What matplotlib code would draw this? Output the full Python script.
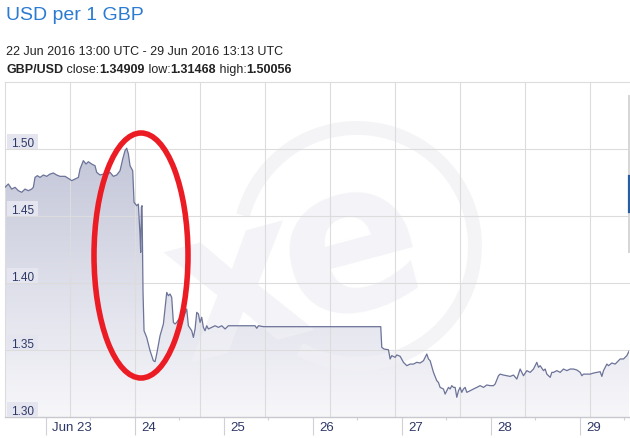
"""
GBP/USD intraday chart around the Brexit vote (22-29 Jun 2016), xe.com style.
"""
import matplotlib
matplotlib.use('Agg')
import matplotlib.pyplot as plt
import numpy as np
from matplotlib.colors import LinearSegmentedColormap
from matplotlib.lines import Line2D
from matplotlib.patches import Arc, Ellipse, Polygon, Rectangle
from matplotlib.transforms import offset_copy

plt.rcParams['font.family'] = ['Liberation Sans', 'DejaVu Sans']

# hours since 22 Jun 2016 13:00 UTC
hours = [
    0.0, 0.9, 1.8, 2.7, 3.6, 4.5, 5.39, 6.29, 7.19, 7.64,
    8.09, 8.72, 9.44, 10.34, 11.24, 12.13, 13.03, 13.93, 14.83, 16.18,
    17.08, 17.98, 18.88, 19.78, 20.23, 21.12, 21.84, 22.47, 23.37, 24.27,
    24.72, 25.62, 26.52, 27.42, 28.31, 29.21, 30.11, 31.01, 31.73, 32.36,
    32.81, 33.26, 33.71, 34.16, 34.43, 34.79, 35.51, 35.96, 36.41, 36.58,
    36.76, 36.94, 37.12, 37.21, 37.48, 38.20, 39.10, 40.00, 40.45, 40.90,
    41.80, 42.70, 43.60, 44.05, 44.49, 44.94, 45.39, 45.84, 46.29, 47.19,
    47.64, 48.09, 48.99, 49.44, 50.34, 50.79, 51.24, 51.69, 52.14, 52.58,
    53.03, 53.48, 53.93, 54.38, 54.83, 55.73, 56.63, 57.53, 58.43, 59.33,
    60.22, 63.37, 67.42, 67.87, 68.32, 69.66, 101.30, 101.57, 102.20, 103.37,
    103.82, 104.27, 105.17, 105.62, 106.52, 107.42, 108.31, 109.21, 110.11, 111.01,
    111.91, 112.81, 113.71, 114.16, 114.61, 115.51, 116.40, 116.85, 117.30, 118.20,
    118.65, 119.10, 119.55, 120.00, 120.45, 120.90, 121.35, 121.80, 122.25, 122.69,
    123.14, 123.59, 124.04, 124.49, 125.39, 126.29, 127.19, 128.09, 128.99, 129.89,
    130.79, 131.68, 132.13, 133.03, 133.48, 134.38, 135.28, 136.18, 137.08, 137.98,
    138.88, 139.32, 139.77, 140.67, 141.57, 142.47, 143.37, 143.82, 144.27, 145.17,
    145.62, 146.07, 146.97, 147.42, 147.87, 148.76, 149.66, 150.56, 151.46, 152.36,
    153.26, 154.16, 155.06, 155.51, 155.95, 156.85, 157.75, 158.65, 159.55, 160.45,
    160.90, 161.35, 162.25, 162.70, 163.60, 164.49, 164.94, 165.84, 166.74, 167.19,
    167.64, 168.09, 168.22,
]
rate = [
    1.4714, 1.4739, 1.4701, 1.4714, 1.4689, 1.4677, 1.4701, 1.4689, 1.4701, 1.4714,
    1.4788, 1.4801, 1.4788, 1.4806, 1.4796, 1.4813, 1.4821, 1.4806, 1.4796, 1.4796,
    1.4781, 1.4764, 1.4776, 1.4788, 1.4851, 1.4913, 1.4888, 1.4905, 1.4888, 1.4875,
    1.4826, 1.4806, 1.4813, 1.4806, 1.4826, 1.4796, 1.4806, 1.4838, 1.4925, 1.4988,
    1.5006, 1.4963, 1.4875, 1.4851, 1.4838, 1.4602, 1.4577, 1.4589, 1.4353, 1.4229,
    1.4565, 1.4577, 1.4104, 1.3930, 1.3644, 1.3594, 1.3495, 1.3420, 1.3413, 1.3470,
    1.3607, 1.3694, 1.3930, 1.3905, 1.3918, 1.3893, 1.3706, 1.3694, 1.3706, 1.3744,
    1.3706, 1.3744, 1.3806, 1.3681, 1.3644, 1.3594, 1.3657, 1.3781, 1.3769, 1.3706,
    1.3744, 1.3669, 1.3644, 1.3681, 1.3657, 1.3669, 1.3681, 1.3669, 1.3681, 1.3657,
    1.3681, 1.3681, 1.3681, 1.3662, 1.3681, 1.3674, 1.3674, 1.3520, 1.3507, 1.3502,
    1.3433, 1.3458, 1.3445, 1.3463, 1.3453, 1.3408, 1.3383, 1.3395, 1.3395, 1.3408,
    1.3403, 1.3420, 1.3470, 1.3433, 1.3420, 1.3333, 1.3271, 1.3258, 1.3221, 1.3209,
    1.3171, 1.3196, 1.3221, 1.3209, 1.3234, 1.3221, 1.3221, 1.3147, 1.3196, 1.3221,
    1.3184, 1.3209, 1.3221, 1.3184, 1.3196, 1.3209, 1.3221, 1.3234, 1.3221, 1.3239,
    1.3234, 1.3234, 1.3246, 1.3308, 1.3320, 1.3313, 1.3308, 1.3303, 1.3313, 1.3283,
    1.3358, 1.3333, 1.3308, 1.3346, 1.3333, 1.3358, 1.3408, 1.3371, 1.3383, 1.3346,
    1.3358, 1.3320, 1.3296, 1.3333, 1.3333, 1.3346, 1.3333, 1.3358, 1.3346, 1.3358,
    1.3358, 1.3351, 1.3333, 1.3308, 1.3320, 1.3320, 1.3320, 1.3328, 1.3333, 1.3338,
    1.3303, 1.3346, 1.3395, 1.3383, 1.3403, 1.3395, 1.3408, 1.3433, 1.3433, 1.3445,
    1.3458, 1.3483, 1.3491,
]

day_ticks = [11, 35, 59, 83, 107, 131, 155]
day_labels = ['Jun 23', '24', '25', '26', '27', '28', '29']
midday_ticks = [23, 47, 71, 95, 119, 143, 167]
y_ticks = [1.30, 1.35, 1.40, 1.45, 1.50]
y_labels = ['1.30', '1.35', '1.40', '1.45', '1.50']

title = 'USD per 1 GBP'
period = '22 Jun 2016 13:00 UTC - 29 Jun 2016 13:13 UTC'
summary = [('GBP/USD', 'bold'), (' close:', 'normal'), ('1.34909', 'bold'),
           (' low:', 'normal'), ('1.31468', 'bold'), (' high:', 'normal'),
           ('1.50056', 'bold')]

X_END = 168.22
Y_MIN, Y_MAX = 1.30, 1.55
W, H = 630, 439

GRID = '#dcdcdc'
LABEL = '#2e3866'
LINE = '#6c7398'
MARK = '#f0f0f5'


def fx(px):
    return px / W


def fy(py):
    return 1 - py / H


def draw_header(fig):
    fig.text(fx(6), fy(20), title, fontsize=14, color='#2a7bd1', va='baseline')
    fig.text(fx(6), fy(55), period, fontsize=9, color='#222222', va='baseline')
    renderer = fig.canvas.get_renderer()
    x = fx(6)
    for piece, weight in summary:
        t = fig.text(x, fy(73), piece, fontsize=9, fontweight=weight,
                     color='#222222', va='baseline')
        bb = t.get_window_extent(renderer)
        x = bb.x1 / fig.bbox.width


def draw_watermark(ax, fig):
    """Faint xe logo behind the chart."""
    cx, cy, r = 357, 247, 118
    ring = Arc((fx(cx), fy(cy)), 2 * r / W, 2 * r / H, theta1=-111, theta2=159,
               transform=fig.transFigure, color=MARK, lw=10, alpha=0.7, zorder=1.5)
    ax.add_patch(ring)
    ax.text(fx(352), fy(250), 'e', transform=fig.transFigure, fontsize=150,
            fontweight='bold', family='DejaVu Sans', rotation=15, color=MARK,
            alpha=0.7, ha='center', va='center', zorder=1.5, clip_on=True)
    ax.text(fx(238), fy(290), 'x', transform=fig.transFigure, fontsize=150,
            fontweight='bold', family='DejaVu Sans', rotation=15, color=MARK,
            alpha=0.7, ha='center', va='center', zorder=1.5, clip_on=True)


def plot_chart():
    fig = plt.figure(figsize=(W / 100, H / 100), dpi=100)
    ax = fig.add_axes([fx(5), 21 / H, 624 / W, 335 / H])

    # gradient area under the line
    grad = np.linspace(0, 1, 256).reshape(-1, 1)
    cmap = LinearSegmentedColormap.from_list('fade', ['#f7f7fa', '#c2c5d8'])
    im = ax.imshow(grad, extent=[0, X_END, Y_MIN, 1.505], origin='lower',
                   aspect='auto', cmap=cmap, zorder=1)
    verts = [(hours[0], Y_MIN)] + list(zip(hours, rate)) + [(hours[-1], Y_MIN)]
    area = Polygon(verts, closed=True, facecolor='none', edgecolor='none')
    ax.add_patch(area)
    im.set_clip_path(area)

    draw_watermark(ax, fig)

    # grid
    for v in y_ticks[1:] + [Y_MAX]:
        ax.axhline(v, color=GRID, lw=0.8, zorder=2, clip_on=False)
    step = 65 / 624 * X_END
    for i in range(10):
        ax.axvline(i * step, color=GRID, lw=0.8, zorder=2, clip_on=False)

    ax.plot(hours, rate, color=LINE, lw=0.9, zorder=4)

    ax.set_xlim(0, X_END)
    ax.set_ylim(Y_MIN, Y_MAX)
    for side in ['top', 'left', 'right']:
        ax.spines[side].set_visible(False)
    ax.spines['bottom'].set_color('#c8c8cf')
    ax.spines['bottom'].set_linewidth(1.0)
    ax.set_facecolor('white')

    ax.set_yticks([])
    ax.set_xticks(day_ticks)
    ax.set_xticklabels([])
    ax.set_xticks(midday_ticks, minor=True)
    ax.tick_params(axis='x', which='major', length=13, width=0.8, color='#d0d0d8')
    ax.tick_params(axis='x', which='minor', length=2.5, width=0.8, color='#d0d0d8')

    lbl_trans = offset_copy(ax.get_xaxis_transform(), fig=fig, x=6, y=-10, units='dots')
    for pos, lab in zip(day_ticks, day_labels):
        ax.text(pos, 0, lab, transform=lbl_trans, ha='left', va='center',
                fontsize=9.5, color=LABEL, clip_on=False)

    # y labels sit inside the plot on little shaded boxes
    ytrans = ax.get_yaxis_transform()
    box_h = 15 / 67 * 0.05
    txt_trans = offset_copy(ytrans, fig=fig, x=6, y=3, units='dots')
    for v, lab in zip(y_ticks, y_labels):
        ax.add_patch(Rectangle((2 / 624, v), 31 / 624, box_h, transform=ytrans,
                               facecolor='#e4e5ef', edgecolor='none', zorder=5))
        ax.text(0, v, lab, transform=txt_trans, ha='left', va='baseline',
                fontsize=8.5, color=LABEL, zorder=6)

    draw_header(fig)

    # highlight around the referendum drop
    fig.add_artist(Ellipse((fx(141), fy(256.5)), 94 / W, 245 / H, fill=False,
                           edgecolor='#ec1c24', lw=4, transform=fig.transFigure))

    # scrollbar remnant on the right edge
    fig.add_artist(Line2D([fx(628.5)] * 2, [fy(97), fy(253)], color='#d6d6d6', lw=1.4))
    fig.add_artist(Line2D([fx(628.5)] * 2, [fy(177), fy(213)], color='#2a5da0', lw=1.6))

    fig.savefig('out.png', dpi=100)


if __name__ == '__main__':
    plot_chart()
